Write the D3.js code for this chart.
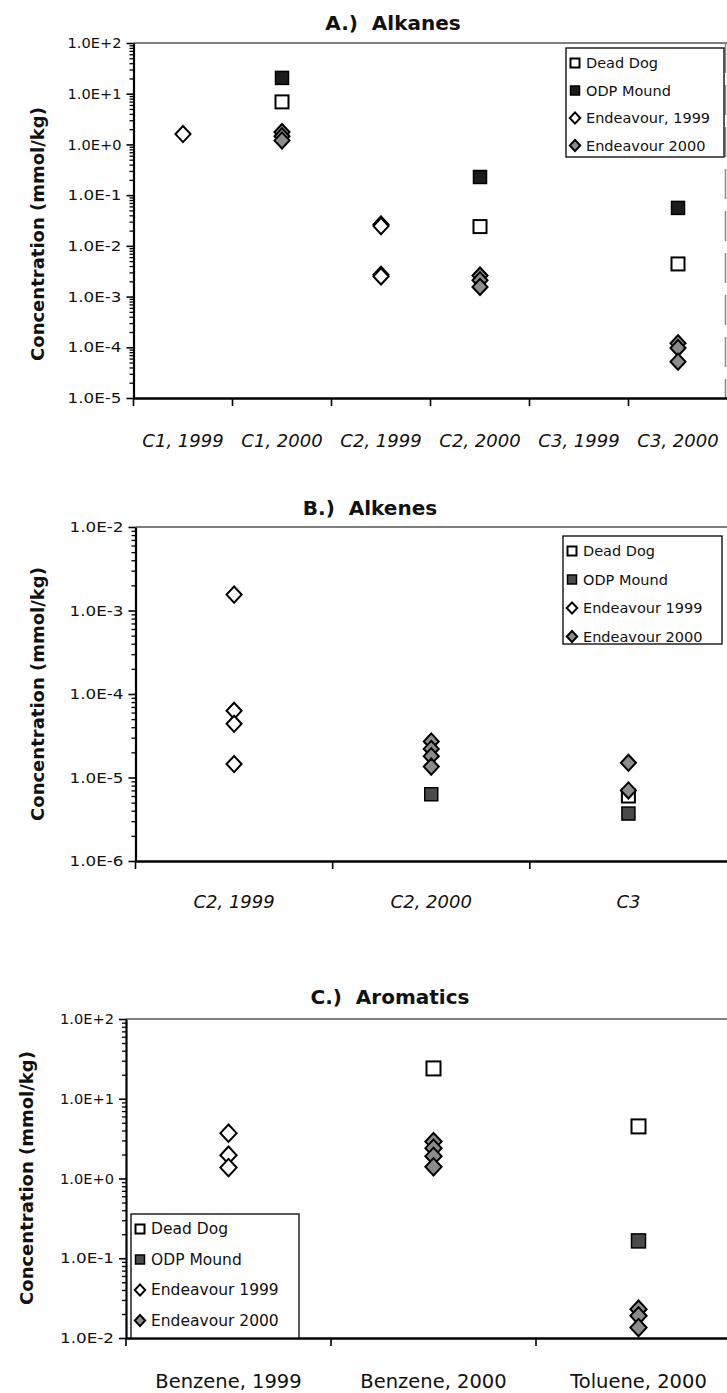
<!DOCTYPE html>
<html><head><meta charset="utf-8">
<script src="https://cdn.jsdelivr.net/npm/d3@7"></script>
<style>body{margin:0;background:#fff} svg{display:block}</style>
</head><body><svg id="c" width="727" height="1393"></svg>
<script>
// ---------- DATA ----------
// A.) Alkanes
const alkaneCategories = ["C1, 1999","C1, 2000","C2, 1999","C2, 2000","C3, 1999","C3, 2000"];
const alkaneYTicks = [1e2,1e1,1e0,1e-1,1e-2,1e-3,1e-4,1e-5];
const alkaneLegend = ["Dead Dog","ODP Mound","Endeavour, 1999","Endeavour 2000"];
const alkaneDeadDog = [["C1, 2000",6.9],["C2, 2000",0.024],["C3, 2000",0.0044]];
const alkaneODPMound = [["C1, 2000",20.5],["C2, 2000",0.228],["C3, 2000",0.056]];
const alkaneEndeavour1999 = [["C1, 1999",1.6],["C2, 1999",0.0265],["C2, 1999",0.0245],["C2, 1999",0.0027],["C2, 1999",0.0025]];
const alkaneEndeavour2000 = [["C1, 2000",1.75],["C1, 2000",1.45],["C1, 2000",1.2],["C2, 2000",0.0026],["C2, 2000",0.0021],["C2, 2000",0.00155],["C3, 2000",0.00012],["C3, 2000",0.000097],["C3, 2000",0.000052]];

// B.) Alkenes
const alkeneCategories = ["C2, 1999","C2, 2000","C3"];
const alkeneYTicks = [1e-2,1e-3,1e-4,1e-5,1e-6];
const alkeneLegend = ["Dead Dog","ODP Mound","Endeavour 1999","Endeavour 2000"];
const alkeneDeadDog = [["C3",6.0e-6]];
const alkeneODPMound = [["C2, 2000",6.3e-6],["C3",3.7e-6]];
const alkeneEndeavour1999 = [["C2, 1999",1.55e-3],["C2, 1999",6.3e-5],["C2, 1999",4.4e-5],["C2, 1999",1.45e-5]];
const alkeneEndeavour2000 = [["C2, 2000",2.7e-5],["C2, 2000",2.2e-5],["C2, 2000",1.8e-5],["C2, 2000",1.35e-5],["C3",1.5e-5],["C3",7.0e-6]];

// C.) Aromatics
const aromaticCategories = ["Benzene, 1999","Benzene, 2000","Toluene, 2000"];
const aromaticYTicks = [1e2,1e1,1e0,1e-1,1e-2];
const aromaticLegend = ["Dead Dog","ODP Mound","Endeavour 1999","Endeavour 2000"];
const aromaticDeadDog = [["Benzene, 2000",24],["Toluene, 2000",4.5]];
const aromaticODPMound = [["Toluene, 2000",0.165]];
const aromaticEndeavour1999 = [["Benzene, 1999",3.7],["Benzene, 1999",1.96],["Benzene, 1999",1.37]];
const aromaticEndeavour2000 = [["Benzene, 2000",2.9],["Benzene, 2000",2.4],["Benzene, 2000",1.9],["Benzene, 2000",1.4],["Toluene, 2000",0.023],["Toluene, 2000",0.019],["Toluene, 2000",0.0135]];

// ---------- LAYOUT / STYLE ----------
const FONT = "'DejaVu Sans', sans-serif";
const svg = d3.select("#c");

const panels = [
  { title:"A.)  Alkanes", cats:alkaneCategories, ticks:alkaneYTicks, legend:alkaneLegend,
    series:[alkaneDeadDog, alkaneODPMound, alkaneEndeavour1999, alkaneEndeavour2000],
    top:43, bottom:398, left:133.5, right:727.5, titleX:393, titleY:30,
    yTitleX:44, yTitleY:234, catY:447, catStyle:"italic", catSize:18, odpFill:"#1c1c1c",
    lg:{x:566,y:48,w:158,h:109,step:27.5,size:14.5}, mk:13, rightBorder:true },
  { title:"B.)  Alkenes", cats:alkeneCategories, ticks:alkeneYTicks, legend:alkeneLegend,
    series:[alkeneDeadDog, alkeneODPMound, alkeneEndeavour1999, alkeneEndeavour2000],
    top:527, bottom:861, left:135.5, right:727, titleX:370, titleY:515,
    yTitleX:44, yTitleY:694, catY:908, catStyle:"italic", catSize:18, odpFill:"#4a4a4a",
    lg:{x:563,y:536,w:159,h:108,step:28.5,size:14.5}, mk:13, rightBorder:false },
  { title:"C.)  Aromatics", cats:aromaticCategories, ticks:aromaticYTicks, legend:aromaticLegend,
    series:[aromaticDeadDog, aromaticODPMound, aromaticEndeavour1999, aromaticEndeavour2000],
    top:1019, bottom:1338, left:126, right:741, titleX:390, titleY:1004,
    yTitleX:33, yTitleY:1178, catY:1388, catStyle:"normal", catSize:19.5, odpFill:"#4a4a4a",
    lg:{x:131,y:1214,w:168,h:124,step:30.5,size:15.5}, mk:14, rightBorder:false }
];

function fmtE(v){
  const e = Math.round(Math.log10(v));
  return "1.0E" + (e >= 0 ? "+" : "-") + Math.abs(e);
}

function drawMarker(g, type, cx, cy, s, odpFill){
  if (type === 0 || type === 1) {
    g.append("rect").attr("x", cx - s/2).attr("y", cy - s/2).attr("width", s).attr("height", s)
      .attr("fill", type === 0 ? "#fff" : odpFill).attr("stroke", "#000").attr("stroke-width", type===0?2:1.5);
  } else {
    const w = s*0.58, h = s*0.62;
    g.append("path").attr("d", `M${cx},${cy-h}L${cx+w},${cy}L${cx},${cy+h}L${cx-w},${cy}Z`)
      .attr("fill", type === 2 ? "#fff" : "#8c8c8c").attr("stroke", "#000").attr("stroke-width", 2);
  }
}

panels.forEach(p => {
  const g = svg.append("g");
  const lo = p.ticks[p.ticks.length-1], hi = p.ticks[0];
  const y = d3.scaleLog().domain([lo, hi]).range([p.bottom, p.top]);
  const x = d3.scaleBand().domain(p.cats).range([p.left, p.right]).padding(0);

  // frame (top and optional right)
  g.append("line").attr("x1", p.left).attr("x2", 727).attr("y1", p.top).attr("y2", p.top)
    .attr("stroke", "#555").attr("stroke-width", 1.5);
  if (p.rightBorder) g.append("line").attr("x1", 725.5).attr("x2", 725.5).attr("y1", p.top).attr("y2", p.bottom)
    .attr("stroke", "#888").attr("stroke-width", 1.5).attr("stroke-dasharray", "30,12");

  // y axis with minor log ticks
  const minor = [];
  for (let e = Math.round(Math.log10(lo)); e < Math.round(Math.log10(hi)); e++)
    for (let k = 2; k <= 9; k++) minor.push(k * Math.pow(10, e));
  g.append("g").attr("transform", `translate(${p.left},0)`)
    .call(d3.axisLeft(y).tickValues(minor).tickSize(4).tickFormat(""))
    .call(a => a.select(".domain").remove())
    .call(a => a.selectAll("line").attr("stroke-width", 1.3));
  const ya = g.append("g").attr("transform", `translate(${p.left},0)`)
    .call(d3.axisLeft(y).tickValues(p.ticks).tickSize(7).tickSizeOuter(0).tickFormat(fmtE).tickPadding(5));
  ya.select(".domain").attr("stroke-width", 2.2);
  ya.selectAll("line").attr("stroke-width", 1.6);
  ya.selectAll("text").attr("font-family", FONT).attr("font-size", 14.5).attr("fill", "#111")
    .attr("textLength", 54).attr("lengthAdjust", "spacingAndGlyphs");

  // x axis
  const xa = g.append("g").attr("transform", `translate(0,${p.bottom})`)
    .call(d3.axisBottom(x).tickSize(0).tickFormat(""));
  xa.select(".domain").attr("stroke-width", 2.4);
  const bounds = p.cats.map(c => x(c));
  g.selectAll(null).data(bounds).enter().append("line")
    .attr("x1", d => d).attr("x2", d => d).attr("y1", p.bottom).attr("y2", p.bottom + 8)
    .attr("stroke", "#000").attr("stroke-width", 1.6);
  g.selectAll(null).data(p.cats).enter().append("text")
    .attr("x", d => x(d) + x.bandwidth()/2).attr("y", p.catY)
    .attr("text-anchor", "middle").attr("font-family", FONT).attr("font-size", p.catSize)
    .attr("font-style", p.catStyle).attr("fill", "#111").text(d => d);

  // titles
  g.append("text").attr("x", p.titleX).attr("y", p.titleY).attr("text-anchor", "middle")
    .attr("font-family", FONT).attr("font-weight", "bold").attr("font-size", 20).attr("fill", "#111")
    .attr("xml:space", "preserve").style("white-space", "pre").text(p.title);
  g.append("text").attr("transform", `translate(${p.yTitleX},${p.yTitleY}) rotate(-90)`)
    .attr("text-anchor", "middle").attr("font-family", FONT).attr("font-weight", "bold")
    .attr("font-size", 18).attr("fill", "#111").text("Concentration (mmol/kg)");

  // points
  p.series.forEach((ser, si) => {
    ser.forEach(([cat, v]) => {
      drawMarker(g, si, x(cat) + x.bandwidth()/2, y(v), p.mk, p.odpFill);
    });
  });

  // legend
  const L = p.lg;
  g.append("rect").attr("x", L.x).attr("y", L.y).attr("width", L.w).attr("height", L.h)
    .attr("fill", "#fff").attr("stroke", "#000").attr("stroke-width", 1.3);
  p.legend.forEach((name, i) => {
    const cy = L.y + 15 + i * L.step;
    drawMarker(g, i, L.x + 9, cy, 9, p.odpFill);
    g.append("text").attr("x", L.x + 20).attr("y", cy + 5).attr("font-family", FONT)
      .attr("font-size", L.size).attr("fill", "#111").text(name);
  });
});
</script></body></html>
